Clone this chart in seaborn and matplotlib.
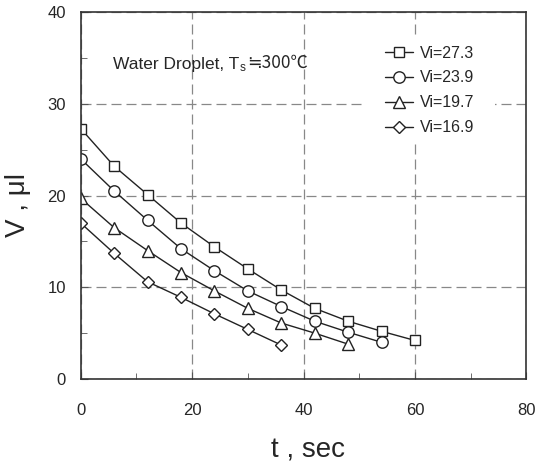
import pandas as pd
import numpy as np
import matplotlib
matplotlib.use('Agg')
import matplotlib.pyplot as plt
import seaborn as sns
from matplotlib.ticker import MultipleLocator
from matplotlib.patches import Rectangle

# -------------------------------
# DATA
# -------------------------------

t_sq = [0, 6, 12, 18, 24, 30, 36, 42, 48, 54, 60]
v_sq = [27.3, 23.2, 20.1, 17.0, 14.4, 12.0, 9.7, 7.7, 6.3, 5.2, 4.2]

t_ci = [0, 6, 12, 18, 24, 30, 36, 42, 48, 54]
v_ci = [24.0, 20.5, 17.3, 14.2, 11.8, 9.6, 7.9, 6.3, 5.1, 4.0]

t_tr = [0, 6, 12, 18, 24, 30, 36, 42, 48]
v_tr = [19.7, 16.5, 14.0, 11.6, 9.6, 7.7, 6.1, 5.0, 3.8]

t_di = [0, 6, 12, 18, 24, 30, 36]
v_di = [17.0, 13.7, 10.6, 8.9, 7.1, 5.4, 3.7]

labels = ['Vi=27.3', 'Vi=23.9', 'Vi=19.7', 'Vi=16.9']

frames = []
for lab, t, v in zip(labels, [t_sq, t_ci, t_tr, t_di], [v_sq, v_ci, v_tr, v_di]):
    frames.append(pd.DataFrame({'t': t, 'V': v, 'series': lab}))
df = pd.concat(frames, ignore_index=True)

# -------------------------------
# PLOT
# -------------------------------

sns.set_style('ticks')
plt.rcParams['font.family'] = ['Liberation Sans', 'DejaVu Sans']
plt.rcParams['xtick.direction'] = 'in'
plt.rcParams['ytick.direction'] = 'in'

fig = plt.figure(figsize=(5.39, 4.67), dpi=100)
ax = fig.add_axes([0.1497, 0.1884, 0.8271, 0.7859])

marker_map = {labels[0]: 's', labels[1]: 'o', labels[2]: '^', labels[3]: 'D'}
size_map = {labels[0]: 7.8, labels[1]: 8.2, labels[2]: 8.5, labels[3]: 6.2}

for lab in labels:
    sub = df[df['series'] == lab]
    sns.lineplot(
        data=sub, x='t', y='V', ax=ax,
        color='#222222', linewidth=1.0,
        marker=marker_map[lab], markersize=size_map[lab],
        markerfacecolor='white', markeredgecolor='#222222',
        markeredgewidth=1.0, label=lab
    )

ax.set_xlim(0, 80)
ax.set_ylim(0, 40)
ax.xaxis.set_major_locator(MultipleLocator(20))
ax.xaxis.set_minor_locator(MultipleLocator(10))
ax.yaxis.set_major_locator(MultipleLocator(10))
ax.yaxis.set_minor_locator(MultipleLocator(5))

ax.grid(True, which='major', linestyle=(0, (8, 4)), color='#888888', linewidth=0.9)
ax.tick_params(which='both', direction='in', labelsize=12, color='#555555')
ax.tick_params(axis='x', pad=17)
ax.tick_params(axis='y', pad=10.5)
ax.tick_params(which='major', length=5)
ax.tick_params(which='minor', length=4)
for s in ax.spines.values():
    s.set_color('#333333')
    s.set_linewidth(1.2)

ax.set_xlabel('t , sec', fontsize=20)
ax.set_ylabel('V , μl', fontsize=20)
ax.xaxis.set_label_coords(0.511, -0.158)
ax.yaxis.set_label_coords(-0.112, 0.474)

# annotation text, built in pieces so the symbols can use a CJK font
t1 = ax.text(5.8, 33.5, 'Water Droplet, T', fontsize=12.5, va='bottom')
t2 = ax.annotate('s', xy=(1, 0), xycoords=t1, xytext=(0.5, -2),
                 textcoords='offset points', fontsize=8.5, va='bottom')
t3 = ax.annotate('≒300℃', xy=(1, 0), xycoords=(t2, t1), xytext=(1, 0),
                 textcoords='offset points', fontsize=12.5, va='bottom',
                 family=['Noto Sans CJK KR', 'DejaVu Sans'])

# white box behind the legend hides the grid there, no border
ax.add_patch(Rectangle((0.631, 0.643), 0.298, 0.294, transform=ax.transAxes,
                       facecolor='white', edgecolor='none', zorder=1.8))

leg = ax.legend(loc='upper left', bbox_to_anchor=(0.668, 0.926), frameon=False,
                fontsize=11.5, handlelength=1.75, handletextpad=0.45,
                labelspacing=0.62, borderaxespad=0)

plt.savefig('out.png', dpi=100)
plt.close()
